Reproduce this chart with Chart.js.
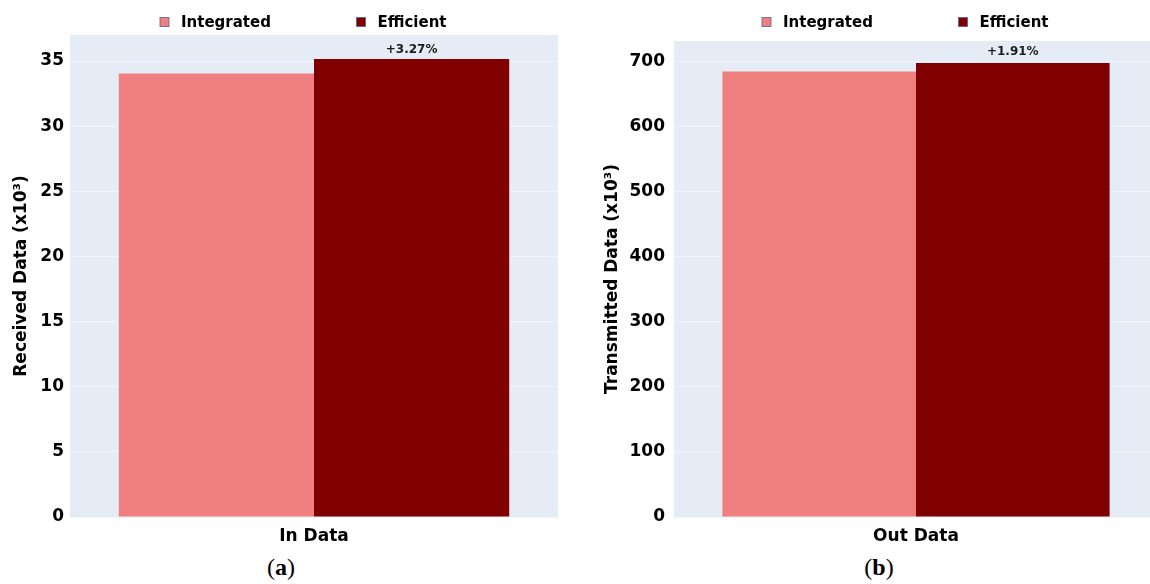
<!DOCTYPE html>
<html>
<head>
<meta charset="utf-8">
<script src="https://cdn.jsdelivr.net/npm/chart.js@4.4.1/dist/chart.umd.min.js"></script>
<style>
  html, body { margin: 0; padding: 0; background: #ffffff; width: 1150px; height: 584px; overflow: hidden; position: relative; }
  canvas { position: absolute; top: 0; }
  #chartA { left: 0; }
  #chartB { left: 580px; }
  .caption { position: absolute; font-family: "Liberation Serif", "DejaVu Serif", serif; font-size: 24px; color: #000; top: 554px; transform: translateX(-50%); }
</style>
</head>
<body>
<canvas id="chartA" width="580" height="550"></canvas>
<canvas id="chartB" width="600" height="550"></canvas>
<div class="caption" style="left:281px">(<b>a</b>)</div>
<div class="caption" style="left:879px">(<b>b</b>)</div>
<script>
// Series names and colours
const seriesNames = ['Integrated', 'Efficient'];
const seriesColors = ['#F08080', '#800000'];

// Panel (a): received data, thousands
const inCategories = ['In Data'];
const inIntegrated = [34.05];
const inEfficient = [35.164];
const inTicks = [0, 5, 10, 15, 20, 25, 30, 35];

// Panel (b): transmitted data, thousands
const outCategories = ['Out Data'];
const outIntegrated = [685];
const outEfficient = [698.1];
const outTicks = [0, 100, 200, 300, 400, 500, 600, 700];

Chart.defaults.font.family = '"DejaVu Sans", Verdana, sans-serif';
Chart.defaults.color = '#000';

const PLOT_BG = '#E5ECF6';

// Fills the plot area and draws the legend row above it
const panelDecor = {
  id: 'panelDecor',
  beforeDraw(chart) {
    const { ctx, chartArea: a } = chart;
    const top = chart.options.plugins.panelDecor.bgTop;
    ctx.save();
    ctx.fillStyle = PLOT_BG;
    ctx.fillRect(a.left, top, a.right - a.left, a.bottom - top + 1);
    ctx.restore();
  },
  afterDraw(chart) {
    const { ctx, chartArea: a } = chart;
    const cx = (a.left + a.right) / 2;
    const offsets = [-149.5, 47];
    const y = 22;
    ctx.save();
    ctx.font = 'bold 15px "DejaVu Sans"';
    ctx.textBaseline = 'middle';
    ctx.textAlign = 'left';
    chart.data.datasets.forEach((ds, i) => {
      const sx = cx + offsets[i];
      ctx.fillStyle = ds.backgroundColor;
      ctx.fillRect(sx - 4.5, y - 4.5, 9, 9);
      ctx.strokeStyle = 'rgba(80,100,140,0.8)';
      ctx.lineWidth = 1;
      ctx.strokeRect(sx - 4.5, y - 4.5, 9, 9);
      ctx.fillStyle = '#000';
      ctx.fillText(ds.label, sx + 16.5, y + 1);
    });
    ctx.restore();
  }
};

// Percentage gain written above the second bar, computed from the two series
const gainLabel = {
  id: 'gainLabel',
  afterDatasetsDraw(chart) {
    const { ctx } = chart;
    const base = chart.data.datasets[0].data;
    const comp = chart.data.datasets[1].data;
    const meta = chart.getDatasetMeta(1);
    ctx.save();
    ctx.font = 'bold 12px "DejaVu Sans"';
    ctx.fillStyle = '#1a1a1a';
    ctx.textAlign = 'center';
    ctx.textBaseline = 'middle';
    meta.data.forEach((bar, i) => {
      const pct = (comp[i] / base[i] - 1) * 100;
      const txt = (pct >= 0 ? '+' : '') + pct.toFixed(2) + '%';
      ctx.fillText(txt, bar.x, bar.y - chart.options.plugins.gainLabel.gap);
    });
    ctx.restore();
  }
};

function makePanel(canvasId, cats, a, b, ticks, yMax, yTitle, opts) {
  return new Chart(document.getElementById(canvasId), {
    type: 'bar',
    data: {
      labels: cats,
      datasets: [
        { label: seriesNames[0], data: a, backgroundColor: seriesColors[0], borderWidth: 0 },
        { label: seriesNames[1], data: b, backgroundColor: seriesColors[1], borderWidth: 0 }
      ]
    },
    options: {
      responsive: false,
      animation: false,
      layout: { padding: { left: 0, right: opts.padRight, top: opts.top, bottom: 0 } },
      datasets: { bar: { categoryPercentage: 0.8, barPercentage: 1.0 } },
      plugins: {
        legend: { display: false },
        tooltip: { enabled: false },
        panelDecor: { bgTop: opts.bgTop },
        gainLabel: { gap: opts.gap }
      },
      scales: {
        x: {
          grid: { display: false, drawTicks: false },
          border: { display: false },
          ticks: { font: { size: 17, weight: 'bold' }, padding: 9, color: '#000' },
          afterFit(s) { s.height = 550 - 517; }
        },
        y: {
          min: 0,
          max: yMax,
          grid: { color: '#F1F4FA', lineWidth: 1, drawTicks: false },
          border: { display: false },
          ticks: { font: { size: 17, weight: 'bold' }, padding: opts.tickPad, color: '#000' },
          afterBuildTicks(s) { s.ticks = ticks.map(v => ({ value: v })); },
          title: {
            display: true,
            text: yTitle,
            font: { size: 17, weight: 'bold' },
            color: '#000',
            padding: { top: opts.titlePad, bottom: 0 }
          },
          afterFit(s) { s.width = opts.axisWidth; }
        }
      }
    },
    plugins: [panelDecor, gainLabel]
  });
}

makePanel('chartA', inCategories, inIntegrated, inEfficient, inTicks, 37.0, 'Received Data (x10³)',
  { padRight: 22, top: 35, bgTop: 35, axisWidth: 70, tickPad: 6, titlePad: 11, gap: 9 });

makePanel('chartB', outCategories, outIntegrated, outEfficient, outTicks, 732, 'Transmitted Data (x10³)',
  { padRight: 22, top: 41, bgTop: 41, axisWidth: 94, tickPad: 9, titlePad: 22, gap: 11 });
</script>
</body>
</html>
